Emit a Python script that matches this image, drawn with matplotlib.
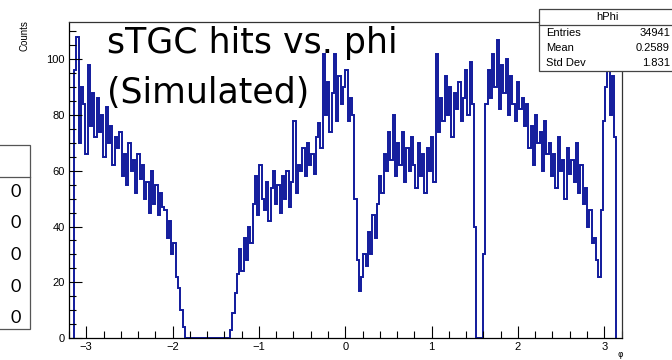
import numpy as np
import matplotlib.pyplot as plt
from matplotlib.ticker import MultipleLocator
from matplotlib.patches import Rectangle
from matplotlib.lines import Line2D

# hPhi bin contents, 240 bins from -pi to pi
counts = [
    96, 108, 70, 90, 84, 66, 98, 76, 88, 72,
    86, 74, 80, 65, 83, 70, 76, 62, 72, 68,
    74, 58, 66, 55, 70, 60, 64, 52, 66, 57,
    62, 50, 56, 45, 60, 48, 55, 44, 52, 47,
    46, 36, 42, 30, 34, 22, 18, 10, 4, 0,
    0, 0, 0, 0, 0, 0, 0, 0, 0, 0,
    0, 0, 0, 0, 0, 0, 0, 0, 0, 3,
    9, 16, 23, 32, 24, 36, 28, 40, 34, 48,
    58, 44, 62, 50, 46, 56, 42, 54, 60, 48,
    55, 45, 58, 50, 60, 47, 56, 78, 52, 62,
    60, 68, 58, 70, 62, 66, 59, 72, 77, 68,
    102, 80, 92, 74, 88, 102, 78, 94, 84, 90,
    96, 78, 86, 80, 50, 28, 17, 22, 30, 26,
    38, 30, 44, 36, 48, 58, 52, 66, 60, 74,
    64, 80, 58, 70, 62, 74, 56, 68, 60, 72,
    62, 54, 70, 58, 66, 52, 68, 60, 72, 56,
    102, 74, 86, 78, 94, 80, 90, 72, 88, 82,
    92, 78, 86, 96, 80, 99, 84, 40, 0, 0,
    0, 30, 84, 96, 86, 102, 90, 107, 82, 98,
    88, 100, 80, 94, 84, 78, 92, 82, 86, 76,
    84, 68, 76, 62, 80, 70, 74, 60, 78, 66,
    70, 58, 66, 54, 72, 60, 64, 50, 68, 59,
    64, 56, 70, 52, 62, 48, 54, 40, 46, 34,
    36, 28, 22, 46, 78, 90, 96, 80, 94, 72,
]
edges = np.linspace(-np.pi, np.pi, len(counts) + 1)

stat_names = ["Entries", "Mean", "Std Dev"]
stat_values = ["34941", "0.2589", "1.831"]
table_cells = ["0", "0", "0", "0", "0"]

W, H = 672, 360
fig = plt.figure(figsize=(W / 100, H / 100), dpi=100)
ax = fig.add_axes([69 / W, 1 - 338 / H, (621.5 - 69) / W, (338 - 21.7) / H])

ax.stairs(counts, edges, baseline=0, color="#111a9c", lw=1.4)
ax.set_xlim(-3.2, 3.2)
ax.set_ylim(0, 113.5)

ax.xaxis.set_major_locator(MultipleLocator(1))
ax.xaxis.set_minor_locator(MultipleLocator(0.2))
ax.yaxis.set_major_locator(MultipleLocator(20))
ax.yaxis.set_minor_locator(MultipleLocator(5))
ax.tick_params(which="both", direction="in", top=False, right=False,
               labelsize=8, width=0.8, color="black")
ax.tick_params(which="major", length=9, pad=3)
ax.tick_params(which="minor", length=5)
for lab in ax.get_xticklabels() + ax.get_yticklabels():
    lab.set_family("Liberation Sans")
for s in ax.spines.values():
    s.set_linewidth(0.9)
    s.set_color("#333333")
ax.spines["bottom"].set_color("black")
ax.spines["left"].set_color("black")

# big title text
ax.text(107 / W, 1 - 53 / H, "sTGC hits vs. phi", transform=fig.transFigure,
        fontsize=25, family="DejaVu Sans", va="baseline", ha="left")
ax.text(107 / W, 1 - 103 / H, "(Simulated)", transform=fig.transFigure,
        fontsize=25, family="DejaVu Sans", va="baseline", ha="left")

# y label and x label
fig.text(25 / W, 1 - 20 / H, "Counts", rotation=90, ha="center", va="top",
         fontsize=7, family="Liberation Sans")
fig.text(620 / W, 1 - 359 / H, "φ", ha="center", va="bottom", fontsize=6,
         family="DejaVu Sans")

# stats box
fig.patches.append(Rectangle((539 / W, 1 - 71 / H), (676 - 539) / W, (71 - 9) / H,
                             transform=fig.transFigure, facecolor="white",
                             edgecolor="#444444", lw=0.9, zorder=5))
fig.lines.append(Line2D([539 / W, 676 / W], [1 - 25 / H, 1 - 25 / H],
                        transform=fig.transFigure, color="#444444", lw=0.9, zorder=6))
fig.text(607 / W, 1 - 17 / H, "hPhi", ha="center", va="center", fontsize=8,
         family="Liberation Sans", zorder=7)
for i, (n, v) in enumerate(zip(stat_names, stat_values)):
    yy = 1 - (32.5 + 15.5 * i) / H
    fig.text(546 / W, yy, n, ha="left", va="center", fontsize=8,
             family="Liberation Sans", zorder=7)
    fig.text(670 / W, yy, v, ha="right", va="center", fontsize=8,
             family="Liberation Sans", zorder=7)

# partial table on the left edge
fig.patches.append(Rectangle((-10 / W, 1 - 329 / H), 40 / W, (329 - 145) / H,
                             transform=fig.transFigure, facecolor="white",
                             edgecolor="#555555", lw=0.9))
fig.lines.append(Line2D([0, 30 / W], [1 - 177 / H, 1 - 177 / H],
                        transform=fig.transFigure, color="#555555", lw=0.9))
for i, c in enumerate(table_cells):
    fig.text(16 / W, 1 - (192 + 31.5 * i) / H, c, ha="center", va="center",
             fontsize=13, family="Lato")

fig.savefig("out.png", dpi=100)
